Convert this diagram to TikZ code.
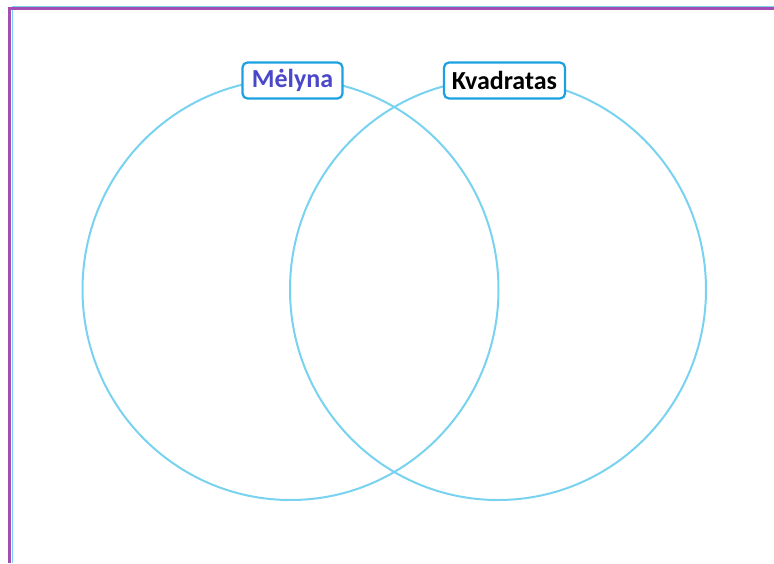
\documentclass[tikz,border=0pt]{standalone}
\usepackage{fontspec}
\setmainfont{Carlito}
\usepackage{xcolor}
\usetikzlibrary{positioning, shapes.geometric}

\definecolor{ringblue}{HTML}{78D2F0}
\definecolor{boxblue}{HTML}{1BA1E2}
\definecolor{framepurple}{HTML}{A44EB4}
\definecolor{textindigo}{HTML}{4A48C8}

\begin{document}
\begin{tikzpicture}[x=1pt, y=-1pt,
    ring/.style={draw=ringblue, line width=2pt, ellipse, minimum width=416pt, minimum height=421pt, inner sep=0pt},
    tag/.style={draw=boxblue, line width=2.2pt, fill=white, rounded corners=5pt, minimum height=36pt, inner xsep=4pt, font=\fontsize{26}{28}\selectfont\bfseries}
]
    % page and frame
    \useasboundingbox (0,0) rectangle (774,563);
    \draw[ringblue, line width=1.8pt] (12.5,563) -- (12.5,6.5) -- (774,6.5);
    \draw[framepurple, line width=3.5pt] (9.5,563) -- (9.5,8.5) -- (774,8.5);

    % circles
    \node[ring] (blue) at (290.5,289.5) {};
    \node[ring] (square) at (498,289.5) {};

    % labels
    \node[tag, text=textindigo, minimum width=100pt] (bluetag) at (292.5,80.5) {Mėlyna};
    \node[tag, text=black, minimum width=121pt] (squaretag) at (504.5,80.5) {Kvadratas};
\end{tikzpicture}
\end{document}
